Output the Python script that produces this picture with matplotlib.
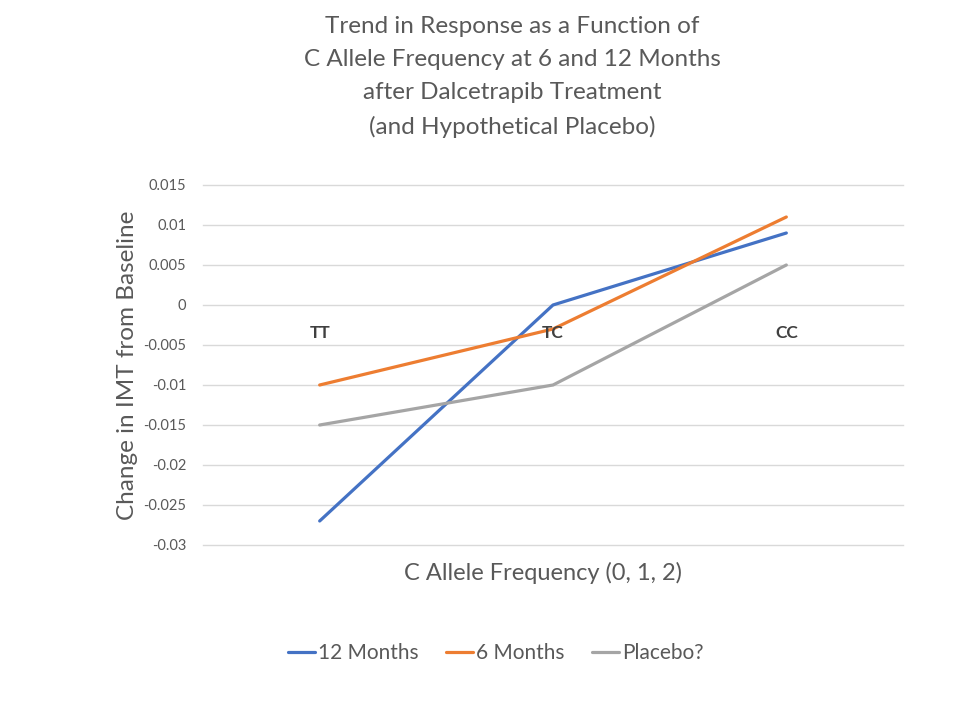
import matplotlib
matplotlib.use("Agg")
import matplotlib.pyplot as plt
from matplotlib.ticker import FixedLocator

plt.rcParams["font.family"] = ["Lato", "DejaVu Sans"]

categories = ["TT", "TC", "CC"]
months_12 = [-0.027, 0.0, 0.009]
months_6 = [-0.010, -0.003, 0.011]
placebo = [-0.015, -0.010, 0.005]
y_ticks = [-0.03, -0.025, -0.02, -0.015, -0.01, -0.005, 0, 0.005, 0.01, 0.015]
y_tick_labels = ["-0.03", "-0.025", "-0.02", "-0.015", "-0.01", "-0.005",
                 "0", "0.005", "0.01", "0.015"]

TXT = "#595959"
GRID = "#d9d9d9"

fig = plt.figure(figsize=(9.6, 7.2), dpi=100)
ax = fig.add_axes([203 / 960, 1 - 545 / 720, 700 / 960, 360 / 720])

x = list(range(len(categories)))
ax.plot(x, months_12, color="#4472C4", lw=2.3, label="12 Months", solid_capstyle="round")
ax.plot(x, months_6, color="#ED7D31", lw=2.3, label="6 Months", solid_capstyle="round")
ax.plot(x, placebo, color="#A5A5A5", lw=2.3, label="Placebo?", solid_capstyle="round")

ax.set_xlim(-0.5, 2.5)
ax.set_ylim(-0.03, 0.015)
ax.yaxis.set_major_locator(FixedLocator(y_ticks))
ax.set_yticklabels(y_tick_labels)
ax.grid(axis="y", color=GRID, lw=1)
for gl in ax.get_ygridlines():
    gl.set_clip_on(False)
ax.set_axisbelow(True)
for sp in ax.spines.values():
    sp.set_visible(False)
ax.tick_params(axis="y", length=0, pad=12, labelsize=10.5, labelcolor=TXT)
ax.set_xticks([])

# category labels sit next to the zero line, like the spreadsheet axis
for xi, cat in zip(x, categories):
    ax.text(xi, -0.0035, cat, ha="center", va="center", fontsize=12.5,
            fontweight="bold", color="#404040")

fig.text(127 / 960, 1 - 365 / 720, "Change in IMT from Baseline", rotation=90,
         ha="center", va="center", fontsize=17.5, color=TXT)
fig.text(543 / 960, 1 - 573 / 720, "C Allele Frequency (0, 1, 2)", ha="center",
         va="center", fontsize=17, color=TXT)

fig.text(512 / 960, 1 - 77 / 720,
         "Trend in Response as a Function of\nC Allele Frequency at 6 and 12 Months\n"
         "after Dalcetrapib Treatment\n(and Hypothetical Placebo)",
         ha="center", va="center", fontsize=17.5, color=TXT, linespacing=1.72)

fig.legend(loc="center", bbox_to_anchor=(496 / 960, 1 - 653 / 720), ncol=3,
           frameon=False, fontsize=15, labelcolor=TXT, handlelength=1.3,
           handletextpad=0.15, columnspacing=1.3)

fig.savefig("out.png", dpi=100, facecolor="white")
